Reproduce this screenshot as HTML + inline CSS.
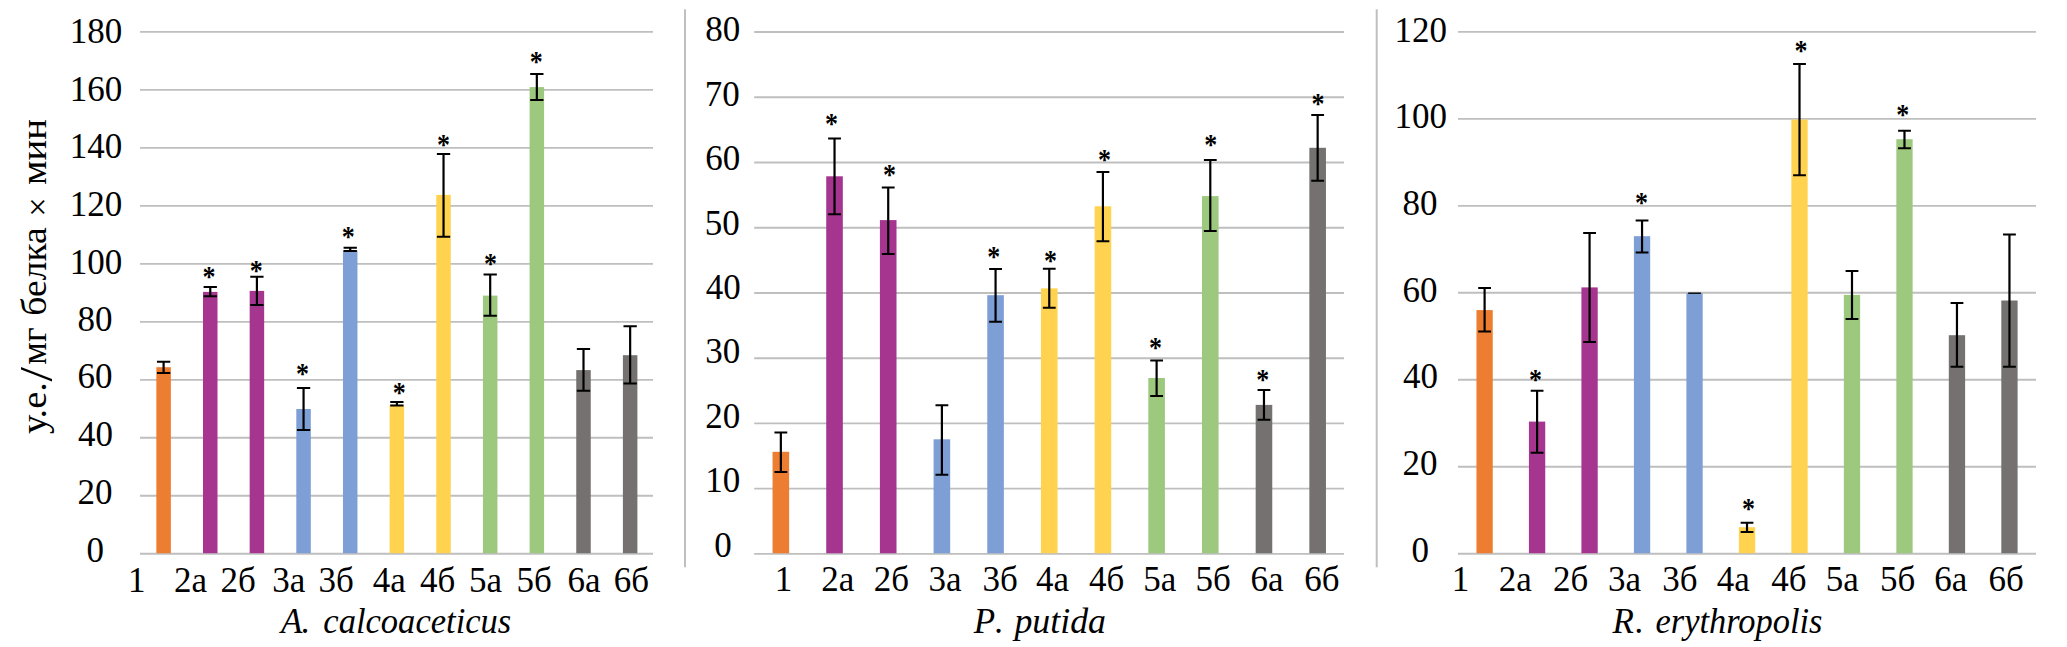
<!DOCTYPE html>
<html lang="ru"><head><meta charset="utf-8"><title>chart</title>
<style>
html,body{margin:0;padding:0;background:#fff;}
body{width:2067px;height:647px;overflow:hidden;}
svg{display:block;font-family:"Liberation Serif",serif;fill:#000;}
.t{font-size:35px;}
.ti{font-size:35px;font-style:italic;}
.st{font-size:28px;font-weight:bold;}
</style></head><body>
<svg width="2067" height="647" viewBox="0 0 2067 647">
<rect width="2067" height="647" fill="#fff"/>
<rect x="684" y="9.3" width="2" height="558" fill="#bfbfbf"/>
<rect x="1375.7" y="9.3" width="2" height="558" fill="#bfbfbf"/>
<path d="M140 553.8H653M140 495.81H653M140 437.82H653M140 379.83H653M140 321.84H653M140 263.86H653M140 205.87H653M140 147.88H653M140 89.89H653M140 31.9H653" stroke="#bfbfbf" stroke-width="1.9" fill="none"/>
<rect x="156.35" y="367.2" width="14.5" height="186" fill="#ed7d31"/>
<rect x="203" y="291.9" width="14.5" height="261.3" fill="#a5358f"/>
<rect x="249.66" y="290.9" width="14.5" height="262.3" fill="#a5358f"/>
<rect x="296.31" y="409" width="14.5" height="144.2" fill="#7d9fd6"/>
<rect x="342.97" y="250.3" width="14.5" height="302.9" fill="#7d9fd6"/>
<rect x="389.62" y="404.7" width="14.5" height="148.5" fill="#ffd34f"/>
<rect x="436.28" y="194.9" width="14.5" height="358.3" fill="#ffd34f"/>
<rect x="482.94" y="295.6" width="14.5" height="257.6" fill="#9dc97f"/>
<rect x="529.59" y="87.1" width="14.5" height="466.1" fill="#9dc97f"/>
<rect x="576.25" y="370.1" width="14.5" height="183.1" fill="#767171"/>
<rect x="622.9" y="355.2" width="14.5" height="198" fill="#767171"/>
<path d="M163.6 361.7V373" stroke="#000" stroke-width="2.2" fill="none"/>
<path d="M156.95 361.7H170.25M156.95 373H170.25" stroke="#000" stroke-width="2.0" fill="none"/>
<path d="M210.25 287.1V296.3" stroke="#000" stroke-width="2.2" fill="none"/>
<path d="M203.6 287.1H216.91M203.6 296.3H216.91" stroke="#000" stroke-width="2.0" fill="none"/>
<text class="st" transform="translate(208.9,272.8) scale(0.93,1.07)" x="-7" y="12.5">*</text>
<path d="M256.91 276.8V304.9" stroke="#000" stroke-width="2.2" fill="none"/>
<path d="M250.26 276.8H263.56M250.26 304.9H263.56" stroke="#000" stroke-width="2.0" fill="none"/>
<text class="st" transform="translate(256.3,266.5) scale(0.93,1.07)" x="-7" y="12.5">*</text>
<path d="M303.56 388.1V430.1" stroke="#000" stroke-width="2.2" fill="none"/>
<path d="M296.92 388.1H310.21M296.92 430.1H310.21" stroke="#000" stroke-width="2.0" fill="none"/>
<text class="st" transform="translate(302.5,369.6) scale(0.93,1.07)" x="-7" y="12.5">*</text>
<path d="M350.22 247.8V250.9" stroke="#000" stroke-width="2.2" fill="none"/>
<path d="M343.57 247.8H356.87M343.57 250.9H356.87" stroke="#000" stroke-width="2.0" fill="none"/>
<text class="st" transform="translate(348.3,232.4) scale(0.93,1.07)" x="-7" y="12.5">*</text>
<path d="M396.88 401.9V405.5" stroke="#000" stroke-width="2.2" fill="none"/>
<path d="M390.23 401.9H403.52M390.23 405.5H403.52" stroke="#000" stroke-width="2.0" fill="none"/>
<text class="st" transform="translate(399.3,388.2) scale(0.93,1.07)" x="-7" y="12.5">*</text>
<path d="M443.53 154V236.7" stroke="#000" stroke-width="2.2" fill="none"/>
<path d="M436.88 154H450.18M436.88 236.7H450.18" stroke="#000" stroke-width="2.0" fill="none"/>
<text class="st" transform="translate(443.6,140.4) scale(0.93,1.07)" x="-7" y="12.5">*</text>
<path d="M490.19 274.5V315.7" stroke="#000" stroke-width="2.2" fill="none"/>
<path d="M483.54 274.5H496.84M483.54 315.7H496.84" stroke="#000" stroke-width="2.0" fill="none"/>
<text class="st" transform="translate(490.6,259.2) scale(0.93,1.07)" x="-7" y="12.5">*</text>
<path d="M536.84 74V99.9" stroke="#000" stroke-width="2.2" fill="none"/>
<path d="M530.19 74H543.49M530.19 99.9H543.49" stroke="#000" stroke-width="2.0" fill="none"/>
<text class="st" transform="translate(536.3,57.2) scale(0.93,1.07)" x="-7" y="12.5">*</text>
<path d="M583.5 348.9V390.8" stroke="#000" stroke-width="2.2" fill="none"/>
<path d="M576.85 348.9H590.14M576.85 390.8H590.14" stroke="#000" stroke-width="2.0" fill="none"/>
<path d="M630.15 326.3V383.6" stroke="#000" stroke-width="2.2" fill="none"/>
<path d="M623.5 326.3H636.8M623.5 383.6H636.8" stroke="#000" stroke-width="2.0" fill="none"/>
<text class="t" x="86.6" y="561.6">0</text>
<text class="t" x="77.6" y="503.96">20</text>
<text class="t" x="78.1" y="446.32">40</text>
<text class="t" x="77.6" y="387.68">60</text>
<text class="t" x="77.6" y="331.04">80</text>
<text class="t" x="69.7" y="274.3">100</text>
<text class="t" x="69.7" y="215.76">120</text>
<text class="t" x="69.7" y="158.12">140</text>
<text class="t" x="69.7" y="101.28">160</text>
<text class="t" x="69.7" y="42.84">180</text>
<text class="t" x="127.9" y="591.7">1</text>
<text class="t" x="173.9" y="591.7">2а</text>
<text class="t" x="220.5" y="591.7">2б</text>
<text class="t" x="272.2" y="591.7">3а</text>
<text class="t" x="318.5" y="591.7">3б</text>
<text class="t" x="372.7" y="591.7">4а</text>
<text class="t" x="420.1" y="591.7">4б</text>
<text class="t" x="469.1" y="591.7">5а</text>
<text class="t" x="516.4" y="591.7">5б</text>
<text class="t" x="567.4" y="591.7">6а</text>
<text class="t" x="613.7" y="591.7">6б</text>
<text class="ti" transform="translate(279,632.9) scale(1.0000,1)" x="2" y="0">A</text>
<text class="ti" transform="translate(302.6,632.9) scale(1.0000,1)" x="-1" y="0">.</text>
<text class="ti" transform="translate(324.3,632.9) scale(0.9872,1)" x="-1" y="0">calcoaceticus</text>
<path d="M754.2 553.85H1344M754.2 488.62H1344M754.2 423.4H1344M754.2 358.18H1344M754.2 292.95H1344M754.2 227.72H1344M754.2 162.5H1344M754.2 97.27H1344M754.2 32.05H1344" stroke="#bfbfbf" stroke-width="1.9" fill="none"/>
<rect x="772.55" y="451.8" width="16.6" height="101.45" fill="#ed7d31"/>
<rect x="826.23" y="176.3" width="16.6" height="376.95" fill="#a5358f"/>
<rect x="879.91" y="220.1" width="16.6" height="333.15" fill="#a5358f"/>
<rect x="933.59" y="439.3" width="16.6" height="113.95" fill="#7d9fd6"/>
<rect x="987.27" y="295.2" width="16.6" height="258.05" fill="#7d9fd6"/>
<rect x="1040.95" y="288.4" width="16.6" height="264.85" fill="#ffd34f"/>
<rect x="1094.63" y="206.3" width="16.6" height="346.95" fill="#ffd34f"/>
<rect x="1148.31" y="378" width="16.6" height="175.25" fill="#9dc97f"/>
<rect x="1201.99" y="196.1" width="16.6" height="357.15" fill="#9dc97f"/>
<rect x="1255.67" y="404.9" width="16.6" height="148.35" fill="#767171"/>
<rect x="1309.35" y="147.8" width="16.6" height="405.45" fill="#767171"/>
<path d="M780.85 432.5V471.9" stroke="#000" stroke-width="2.2" fill="none"/>
<path d="M774.45 432.5H787.25M774.45 471.9H787.25" stroke="#000" stroke-width="2.0" fill="none"/>
<path d="M834.53 138.5V214.3" stroke="#000" stroke-width="2.2" fill="none"/>
<path d="M828.13 138.5H840.93M828.13 214.3H840.93" stroke="#000" stroke-width="2.0" fill="none"/>
<text class="st" transform="translate(831.6,119.5) scale(0.93,1.07)" x="-7" y="12.5">*</text>
<path d="M888.21 187.4V254" stroke="#000" stroke-width="2.2" fill="none"/>
<path d="M881.81 187.4H894.61M881.81 254H894.61" stroke="#000" stroke-width="2.0" fill="none"/>
<text class="st" transform="translate(889.6,170.9) scale(0.93,1.07)" x="-7" y="12.5">*</text>
<path d="M941.89 405.2V474.7" stroke="#000" stroke-width="2.2" fill="none"/>
<path d="M935.49 405.2H948.29M935.49 474.7H948.29" stroke="#000" stroke-width="2.0" fill="none"/>
<path d="M995.57 269V321.8" stroke="#000" stroke-width="2.2" fill="none"/>
<path d="M989.17 269H1001.97M989.17 321.8H1001.97" stroke="#000" stroke-width="2.0" fill="none"/>
<text class="st" transform="translate(993.8,252.5) scale(0.93,1.07)" x="-7" y="12.5">*</text>
<path d="M1049.25 268.8V307.8" stroke="#000" stroke-width="2.2" fill="none"/>
<path d="M1042.85 268.8H1055.65M1042.85 307.8H1055.65" stroke="#000" stroke-width="2.0" fill="none"/>
<text class="st" transform="translate(1050.6,256.2) scale(0.93,1.07)" x="-7" y="12.5">*</text>
<path d="M1102.93 171.9V241.2" stroke="#000" stroke-width="2.2" fill="none"/>
<path d="M1096.53 171.9H1109.33M1096.53 241.2H1109.33" stroke="#000" stroke-width="2.0" fill="none"/>
<text class="st" transform="translate(1104.4,156) scale(0.93,1.07)" x="-7" y="12.5">*</text>
<path d="M1156.61 360.6V396.1" stroke="#000" stroke-width="2.2" fill="none"/>
<path d="M1150.21 360.6H1163.01M1150.21 396.1H1163.01" stroke="#000" stroke-width="2.0" fill="none"/>
<text class="st" transform="translate(1155.6,343.9) scale(0.93,1.07)" x="-7" y="12.5">*</text>
<path d="M1210.29 159.9V231" stroke="#000" stroke-width="2.2" fill="none"/>
<path d="M1203.89 159.9H1216.69M1203.89 231H1216.69" stroke="#000" stroke-width="2.0" fill="none"/>
<text class="st" transform="translate(1210.8,140.3) scale(0.93,1.07)" x="-7" y="12.5">*</text>
<path d="M1263.97 390.1V419.7" stroke="#000" stroke-width="2.2" fill="none"/>
<path d="M1257.57 390.1H1270.37M1257.57 419.7H1270.37" stroke="#000" stroke-width="2.0" fill="none"/>
<text class="st" transform="translate(1262.8,375.5) scale(0.93,1.07)" x="-7" y="12.5">*</text>
<path d="M1317.65 114.9V180.8" stroke="#000" stroke-width="2.2" fill="none"/>
<path d="M1311.25 114.9H1324.05M1311.25 180.8H1324.05" stroke="#000" stroke-width="2.0" fill="none"/>
<text class="st" transform="translate(1318,99.6) scale(0.93,1.07)" x="-7" y="12.5">*</text>
<text class="t" x="714.35" y="557">0</text>
<text class="t" x="705.2" y="492.48">10</text>
<text class="t" x="705.35" y="427.95">20</text>
<text class="t" x="705.35" y="363.42">30</text>
<text class="t" x="705.85" y="298.9">40</text>
<text class="t" x="704.85" y="234.97">50</text>
<text class="t" x="705.35" y="169.85">60</text>
<text class="t" x="704.85" y="105.92">70</text>
<text class="t" x="705.35" y="40.8">80</text>
<text class="t" x="774.65" y="591.4">1</text>
<text class="t" x="821.22" y="591.4">2а</text>
<text class="t" x="873.8" y="591.4">2б</text>
<text class="t" x="928.5" y="591.4">3а</text>
<text class="t" x="982.45" y="591.4">3б</text>
<text class="t" x="1035.9" y="591.4">4а</text>
<text class="t" x="1088.95" y="591.4">4б</text>
<text class="t" x="1143.2" y="591.4">5а</text>
<text class="t" x="1195.6" y="591.4">5б</text>
<text class="t" x="1250.4" y="591.4">6а</text>
<text class="t" x="1304.35" y="591.4">6б</text>
<text class="ti" transform="translate(973.8,632.9) scale(1.0000,1)" x="0" y="0">P</text>
<text class="ti" transform="translate(995.9,632.9) scale(1.0000,1)" x="-1" y="0">.</text>
<text class="ti" transform="translate(1012.4,632.9) scale(1.0244,1)" x="2" y="0">putida</text>
<path d="M1458 553.8H2036M1458 466.81H2036M1458 379.82H2036M1458 292.82H2036M1458 205.83H2036M1458 118.84H2036M1458 31.85H2036" stroke="#bfbfbf" stroke-width="1.9" fill="none"/>
<rect x="1476.45" y="310.1" width="16.3" height="243.1" fill="#ed7d31"/>
<rect x="1528.93" y="421.6" width="16.3" height="131.6" fill="#a5358f"/>
<rect x="1581.42" y="287.4" width="16.3" height="265.8" fill="#a5358f"/>
<rect x="1633.9" y="236.2" width="16.3" height="317" fill="#7d9fd6"/>
<rect x="1686.39" y="293.2" width="16.3" height="260" fill="#7d9fd6"/>
<rect x="1738.87" y="527.2" width="16.3" height="26" fill="#ffd34f"/>
<rect x="1791.36" y="119.6" width="16.3" height="433.6" fill="#ffd34f"/>
<rect x="1843.84" y="294.9" width="16.3" height="258.3" fill="#9dc97f"/>
<rect x="1896.33" y="139.2" width="16.3" height="414" fill="#9dc97f"/>
<rect x="1948.81" y="335.2" width="16.3" height="218" fill="#767171"/>
<rect x="2001.3" y="300.5" width="16.3" height="252.7" fill="#767171"/>
<path d="M1484.6 288.1V331.5" stroke="#000" stroke-width="2.2" fill="none"/>
<path d="M1478.2 288.1H1491M1478.2 331.5H1491" stroke="#000" stroke-width="2.0" fill="none"/>
<path d="M1537.08 390.8V452.7" stroke="#000" stroke-width="2.2" fill="none"/>
<path d="M1530.68 390.8H1543.48M1530.68 452.7H1543.48" stroke="#000" stroke-width="2.0" fill="none"/>
<text class="st" transform="translate(1535.6,376) scale(0.93,1.07)" x="-7" y="12.5">*</text>
<path d="M1589.57 232.9V341.9" stroke="#000" stroke-width="2.2" fill="none"/>
<path d="M1583.17 232.9H1595.97M1583.17 341.9H1595.97" stroke="#000" stroke-width="2.0" fill="none"/>
<path d="M1642.05 220.4V252.4" stroke="#000" stroke-width="2.2" fill="none"/>
<path d="M1635.65 220.4H1648.45M1635.65 252.4H1648.45" stroke="#000" stroke-width="2.0" fill="none"/>
<text class="st" transform="translate(1641.4,199) scale(0.93,1.07)" x="-7" y="12.5">*</text>
<path d="M1688.14 293.2H1700.94" stroke="#000" stroke-width="1.4" fill="none"/>
<path d="M1747.02 522.8V532.1" stroke="#000" stroke-width="2.2" fill="none"/>
<path d="M1740.62 522.8H1753.42M1740.62 532.1H1753.42" stroke="#000" stroke-width="2.0" fill="none"/>
<text class="st" transform="translate(1748.6,505.1) scale(0.93,1.07)" x="-7" y="12.5">*</text>
<path d="M1799.51 64.1V175.2" stroke="#000" stroke-width="2.2" fill="none"/>
<path d="M1793.11 64.1H1805.91M1793.11 175.2H1805.91" stroke="#000" stroke-width="2.0" fill="none"/>
<text class="st" transform="translate(1800.9,46.3) scale(0.93,1.07)" x="-7" y="12.5">*</text>
<path d="M1851.99 271V319" stroke="#000" stroke-width="2.2" fill="none"/>
<path d="M1845.59 271H1858.39M1845.59 319H1858.39" stroke="#000" stroke-width="2.0" fill="none"/>
<path d="M1904.48 130.7V148.3" stroke="#000" stroke-width="2.2" fill="none"/>
<path d="M1898.08 130.7H1910.88M1898.08 148.3H1910.88" stroke="#000" stroke-width="2.0" fill="none"/>
<text class="st" transform="translate(1902.7,111) scale(0.93,1.07)" x="-7" y="12.5">*</text>
<path d="M1956.96 303V366.8" stroke="#000" stroke-width="2.2" fill="none"/>
<path d="M1950.56 303H1963.37M1950.56 366.8H1963.37" stroke="#000" stroke-width="2.0" fill="none"/>
<path d="M2009.45 234.6V366.8" stroke="#000" stroke-width="2.2" fill="none"/>
<path d="M2003.05 234.6H2015.85M2003.05 366.8H2015.85" stroke="#000" stroke-width="2.0" fill="none"/>
<text class="t" x="1411.6" y="561.6">0</text>
<text class="t" x="1402.6" y="474.92">20</text>
<text class="t" x="1403.1" y="388.24">40</text>
<text class="t" x="1402.6" y="301.56">60</text>
<text class="t" x="1402.6" y="214.88">80</text>
<text class="t" x="1394.4" y="128.2">100</text>
<text class="t" x="1394.4" y="41.52">120</text>
<text class="t" x="1451.75" y="591.4">1</text>
<text class="t" x="1498.8" y="591.4">2а</text>
<text class="t" x="1553.05" y="591.4">2б</text>
<text class="t" x="1607.95" y="591.4">3а</text>
<text class="t" x="1662.25" y="591.4">3б</text>
<text class="t" x="1716.85" y="591.4">4а</text>
<text class="t" x="1771.35" y="591.4">4б</text>
<text class="t" x="1825.65" y="591.4">5а</text>
<text class="t" x="1879.95" y="591.4">5б</text>
<text class="t" x="1934.25" y="591.4">6а</text>
<text class="t" x="1988.55" y="591.4">6б</text>
<text class="ti" transform="translate(1612.5,633.2) scale(1.0000,1)" x="0" y="0">R</text>
<text class="ti" transform="translate(1636.2,633.2) scale(1.0000,1)" x="-1" y="0">.</text>
<text class="ti" transform="translate(1656.5,633.2) scale(0.9839,1)" x="-1" y="0">erythropolis</text>
<text font-size="35" transform="translate(46.1,433.9) rotate(-90) scale(1.1044,1)" x="0" y="0">у.е.</text>
<text font-size="46" transform="translate(52.4,381.5) rotate(-90) scale(1.1308,1)" x="0" y="0">/</text>
<text font-size="35" transform="translate(46.1,363.8) rotate(-90) scale(1.0257,1)" x="-1" y="0">мг</text>
<text font-size="35" transform="translate(46.1,314.6) rotate(-90) scale(1.0741,1)" x="-1" y="0">белка</text>
<text font-size="33" transform="translate(49.3,213.7) rotate(-90) scale(1.0462,1)" x="-3" y="0">×</text>
<text font-size="35" transform="translate(46.1,183.9) rotate(-90) scale(1.1086,1)" x="-1" y="0">мин</text>
</svg>
</body></html>
